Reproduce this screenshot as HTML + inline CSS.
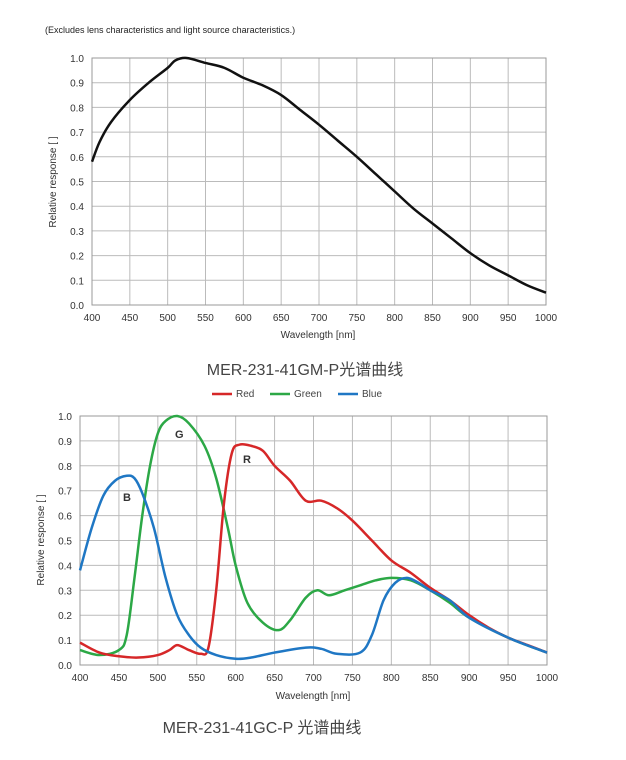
<!DOCTYPE html>
<html><head><meta charset="utf-8"><style>
body{margin:0;background:#fff;width:626px;height:755px;overflow:hidden}
svg text{font-family:"Liberation Sans",Arial,sans-serif}
.cap{font-family:"Liberation Sans","Noto Sans CJK SC",sans-serif}
</style></head><body>
<svg id="s" width="626" height="755" xmlns="http://www.w3.org/2000/svg">
<text x="45" y="33" font-size="9" fill="#222">(Excludes lens characteristics and light source characteristics.)</text>
<g id="g1"></g>
<text x="318" y="338" font-size="10" text-anchor="middle" fill="#333">Wavelength [nm]</text>
<text transform="translate(56,182) rotate(-90)" font-size="10" text-anchor="middle" fill="#333">Relative response [ ]</text>
<text class="cap" x="305" y="375" font-size="16" text-anchor="middle" fill="#444">MER-231-41GM-P光谱曲线</text>
<g font-size="10" fill="#444">
<line x1="212" y1="394" x2="232" y2="394" stroke="#d62728" stroke-width="2.5"/><text x="236" y="397">Red</text>
<line x1="270" y1="394" x2="290" y2="394" stroke="#2ca846" stroke-width="2.5"/><text x="294" y="397">Green</text>
<line x1="338" y1="394" x2="358" y2="394" stroke="#1f77c4" stroke-width="2.5"/><text x="362" y="397">Blue</text>
</g>
<g id="g2"></g>
<text x="313" y="699" font-size="10" text-anchor="middle" fill="#333">Wavelength [nm]</text>
<text transform="translate(44,540) rotate(-90)" font-size="10" text-anchor="middle" fill="#333">Relative response [ ]</text>
<text x="175" y="438" font-size="11" font-weight="bold" fill="#333">G</text>
<text x="243" y="463" font-size="11" font-weight="bold" fill="#333">R</text>
<text x="123" y="501" font-size="11" font-weight="bold" fill="#333">B</text>
<text class="cap" x="262" y="733" font-size="16" text-anchor="middle" fill="#444">MER-231-41GC-P 光谱曲线</text>
</svg>
<script>
var NS="http://www.w3.org/2000/svg";
function el(p,t,a,txt){var e=document.createElementNS(NS,t);for(var k in a)e.setAttribute(k,a[k]);if(txt!=null)e.textContent=txt;p.appendChild(e);return e;}
function chart(g,x0,x1,y0,y1,series){
 var X=function(w){return x0+(w-400)/600*(x1-x0)},Y=function(v){return y0-(v)*(y0-y1)};
 for(var w=400;w<=1000;w+=50){el(g,'line',{x1:X(w),x2:X(w),y1:y1,y2:y0,stroke:'#bbb','stroke-width':1});
  el(g,'text',{x:X(w),y:y0+16,'font-size':10,'text-anchor':'middle',fill:'#333'},String(w));}
 for(var i=0;i<=10;i++){var v=i/10;el(g,'line',{x1:x0,x2:x1,y1:Y(v),y2:Y(v),stroke:'#bbb','stroke-width':1});
  el(g,'text',{x:x0-8,y:Y(v)+4,'font-size':10,'text-anchor':'end',fill:'#333'},v.toFixed(1));}
 el(g,'rect',{x:x0,y:y1,width:x1-x0,height:y0-y1,fill:'none',stroke:'#999'});
 series.forEach(function(s){var p=s.d.map(function(q){return[X(q[0]),Y(q[1])]});
  var d='M'+p[0][0]+','+p[0][1];
  for(var i=0;i<p.length-1;i++){var a=p[i-1]||p[i],b=p[i],c=p[i+1],e=p[i+2]||c;
   d+=' C'+(b[0]+(c[0]-a[0])/6)+','+(b[1]+(c[1]-a[1])/6)+' '+(c[0]-(e[0]-b[0])/6)+','+(c[1]-(e[1]-b[1])/6)+' '+c[0]+','+c[1];}
  el(g,'path',{d:d,fill:'none',stroke:s.c,'stroke-width':s.w||2.5,'stroke-linejoin':'round'});});
}
chart(document.getElementById('g1'),92,546,305,58,[{c:'#111',w:2.5,d:[[400,.58],[410,.66],[425,.74],[450,.83],[475,.9],[500,.96],[510,.99],[525,1],[550,.98],[575,.96],[600,.92],[625,.89],[650,.85],[675,.79],[700,.73],[725,.665],[750,.6],[775,.53],[800,.46],[825,.39],[850,.33],[875,.27],[900,.21],[925,.16],[950,.12],[975,.08],[1000,.05]]}]);
chart(document.getElementById('g2'),80,547,665,416,[
{c:'#2ca846',d:[[400,.06],[425,.04],[450,.06],[460,.12],[470,.35],[480,.6],[490,.8],[500,.93],[510,.98],[525,1],[540,.97],[560,.88],[575,.75],[590,.55],[600,.4],[615,.25],[635,.17],[655,.14],[670,.18],[690,.27],[705,.3],[720,.28],[740,.3],[760,.32],[780,.34],[800,.35],[825,.34],[850,.3],[875,.25],[900,.19],[950,.11],[1000,.05]]},
{c:'#d62728',d:[[400,.09],[425,.05],[450,.035],[475,.03],[500,.04],[515,.06],[525,.08],[540,.06],[555,.045],[565,.07],[575,.3],[585,.65],[595,.85],[605,.885],[620,.88],[635,.86],[650,.8],[670,.74],[690,.66],[710,.66],[730,.63],[750,.58],[775,.5],[800,.42],[825,.37],[850,.31],[875,.26],[900,.2],[925,.15],[950,.11],[975,.08],[1000,.05]]},
{c:'#1f77c4',d:[[400,.38],[415,.55],[430,.68],[445,.74],[460,.76],[470,.75],[480,.69],[495,.55],[510,.35],[525,.2],[540,.12],[555,.07],[575,.04],[600,.025],[620,.03],[650,.05],[690,.07],[710,.065],[730,.045],[760,.05],[775,.12],[790,.26],[805,.33],[820,.35],[835,.33],[850,.3],[875,.26],[900,.19],[950,.11],[1000,.05]]}
]);
</script>
</body></html>
